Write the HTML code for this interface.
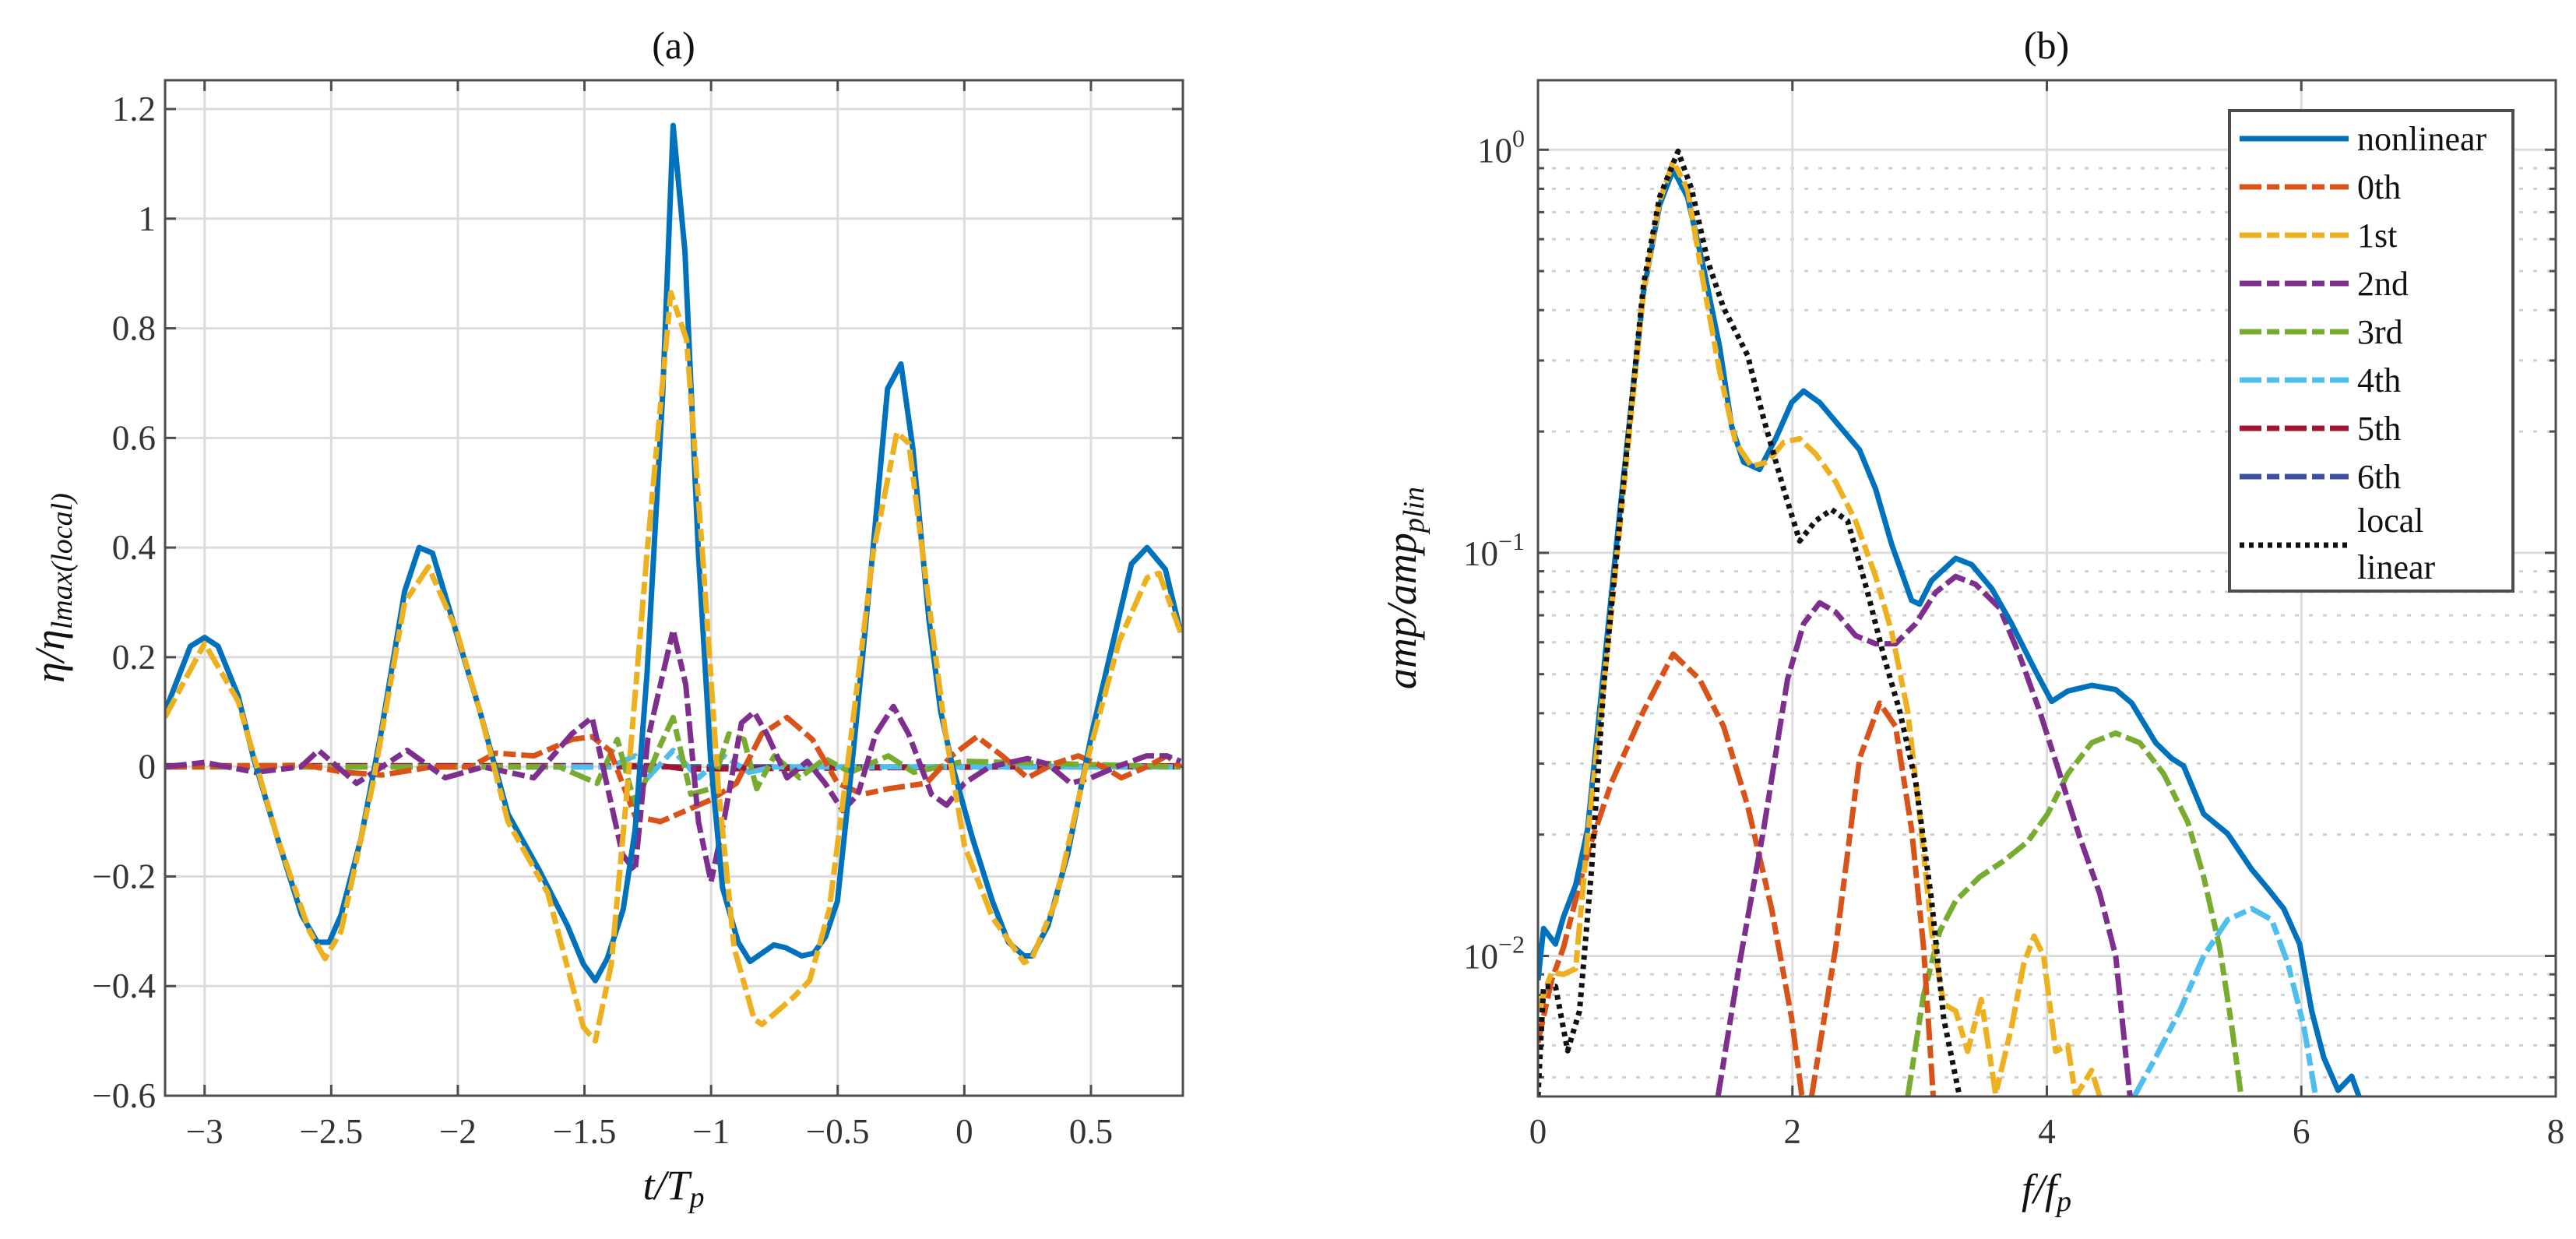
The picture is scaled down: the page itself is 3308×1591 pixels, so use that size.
<!DOCTYPE html>
<html><head><meta charset="utf-8"><style>
html,body{margin:0;padding:0;background:#fff;}
svg{display:block;font-family:"Liberation Serif",serif;}
</style></head>
<body>
<svg id="fig" width="3308" height="1591" viewBox="0 0 3308 1591" xmlns="http://www.w3.org/2000/svg">
<rect width="3308" height="1591" fill="#fff"/>
<g id="pa"></g>
<g id="pb"></g>
</svg>
<script>
// ---------- Panel (a) data ----------
const tNonlin = [-3.157,-3.056,-3,-2.947,-2.868,-2.806,-2.712,-2.617,-2.555,-2.508,-2.461,-2.382,-2.304,-2.21,-2.153,-2.1,-2.006,-1.912,-1.802,-1.677,-1.567,-1.504,-1.457,-1.41,-1.347,-1.3,-1.253,-1.191,-1.15,-1.103,-1.05,-1.002,-0.955,-0.893,-0.846,-0.799,-0.752,-0.705,-0.642,-0.595,-0.548,-0.501,-0.438,-0.36,-0.303,-0.25,-0.203,-0.14,-0.093,-0.046,0.032,0.111,0.174,0.236,0.267,0.33,0.408,0.503,0.581,0.66,0.722,0.794,0.854];
const yNonlin = [0.10,0.22,0.236,0.22,0.13,0.015,-0.13,-0.27,-0.32,-0.32,-0.27,-0.13,0.06,0.32,0.40,0.39,0.245,0.10,-0.086,-0.19,-0.29,-0.36,-0.39,-0.35,-0.26,-0.115,0.17,0.68,1.17,0.94,0.39,0.015,-0.22,-0.32,-0.355,-0.34,-0.325,-0.33,-0.345,-0.34,-0.31,-0.245,0.03,0.40,0.69,0.735,0.58,0.27,0.10,0,-0.13,-0.245,-0.32,-0.345,-0.345,-0.29,-0.16,0.06,0.215,0.37,0.40,0.36,0.245];
const tFirst = [-3.157,-3.0,-2.868,-2.712,-2.586,-2.524,-2.461,-2.335,-2.21,-2.116,-2.006,-1.912,-1.802,-1.645,-1.504,-1.457,-1.394,-1.331,-1.253,-1.159,-1.097,-1.034,-0.971,-0.909,-0.83,-0.799,-0.674,-0.611,-0.533,-0.454,-0.36,-0.266,-0.219,-0.14,-0.077,0.001,0.111,0.236,0.267,0.361,0.487,0.612,0.722,0.769,0.854];
const yFirst = [0.09,0.225,0.12,-0.13,-0.30,-0.35,-0.30,-0.03,0.30,0.365,0.25,0.10,-0.10,-0.23,-0.475,-0.50,-0.36,-0.04,0.39,0.865,0.78,0.39,-0.04,-0.33,-0.46,-0.47,-0.42,-0.39,-0.26,0.03,0.39,0.61,0.59,0.30,0.07,-0.145,-0.275,-0.357,-0.35,-0.245,0.015,0.23,0.345,0.353,0.245];
const tZeroth = [-3.157,-2.6,-2.45,-2.3,-2.1,-1.95,-1.85,-1.7,-1.55,-1.47,-1.4,-1.3,-1.2,-1.1,-1.0,-0.9,-0.8,-0.7,-0.6,-0.5,-0.4,-0.3,-0.15,-0.05,0.05,0.15,0.25,0.35,0.45,0.55,0.62,0.72,0.8,0.854];
const yZeroth = [0,0.003,-0.01,-0.015,0,0,0.025,0.02,0.05,0.055,0.03,-0.09,-0.10,-0.08,-0.06,-0.03,0.06,0.09,0.05,-0.03,-0.05,-0.04,-0.03,0.02,0.055,0.02,-0.02,0.005,0.02,0,-0.02,0,0.02,0];
const tSecond = [-3.157,-3.0,-2.8,-2.62,-2.55,-2.4,-2.2,-2.05,-1.9,-1.7,-1.55,-1.47,-1.35,-1.3,-1.25,-1.15,-1.1,-1.05,-1.0,-0.95,-0.88,-0.83,-0.78,-0.7,-0.62,-0.55,-0.48,-0.42,-0.35,-0.28,-0.22,-0.13,-0.07,0,0.1,0.25,0.33,0.42,0.5,0.6,0.72,0.8,0.854];
const ySecond = [0,0.008,-0.01,0,0.03,-0.03,0.03,-0.02,0,-0.02,0.06,0.09,-0.16,-0.19,0.05,0.25,0.15,-0.1,-0.21,-0.1,0.08,0.10,0.06,-0.02,0.01,-0.03,-0.08,-0.05,0.06,0.11,0.06,-0.05,-0.07,-0.03,0,0.015,0.005,-0.03,-0.02,0,0.02,0.02,0.01];
const tThird = [-3.157,-1.6,-1.55,-1.45,-1.37,-1.3,-1.2,-1.15,-1.08,-1.0,-0.93,-0.87,-0.82,-0.75,-0.65,-0.55,-0.45,-0.3,-0.2,-0.1,0,0.854];
const yThird = [0,0,-0.01,-0.03,0.05,-0.07,0.04,0.09,-0.05,-0.04,0.06,0.05,-0.04,0.02,-0.02,0.015,-0.01,0.02,-0.01,0,0.01,0];
const tFourth = [-3.157,-1.4,-1.3,-1.25,-1.15,-1.05,-0.95,-0.85,-0.75,0.854];
const yFourth = [0,0,0.02,-0.02,0.03,-0.02,0.02,-0.01,0,0];
const tFifth = [-3.157,-1.2,-1.1,0.854];
const yFifth = [0.002,0.002,-0.004,0.002];
const tSixth = [-3.157,0.854];
const ySixth = [0,0];
const xTicksA = [-3,-2.5,-2,-1.5,-1,-0.5,0,0.5];
const xTickLabelsA = ["\u22123","\u22122.5","\u22122","\u22121.5","\u22121","\u22120.5","0","0.5"];
const yTicksA = [-0.6,-0.4,-0.2,0,0.2,0.4,0.6,0.8,1,1.2];
const yTickLabelsA = ["\u22120.6","\u22120.4","\u22120.2","0","0.2","0.4","0.6","0.8","1","1.2"];

// ---------- Panel (b) data ----------
const fNonlin = [0,0.044,0.138,0.201,0.296,0.39,0.484,0.642,0.83,0.956,1.063,1.176,1.302,1.428,1.522,1.616,1.742,1.868,1.994,2.088,2.214,2.371,2.528,2.654,2.78,2.937,3.0,3.094,3.283,3.409,3.566,3.723,3.912,4.038,4.164,4.352,4.541,4.667,4.855,4.981,5.075,5.233,5.421,5.61,5.736,5.862,5.987,6.082,6.176,6.289,6.396,6.459];
const aNonlin = [0.0087,0.0117,0.0107,0.0125,0.015,0.0206,0.0405,0.125,0.444,0.729,0.893,0.763,0.508,0.324,0.206,0.168,0.161,0.192,0.236,0.252,0.236,0.206,0.18,0.144,0.105,0.0762,0.0746,0.0854,0.0969,0.0935,0.0816,0.0667,0.0508,0.0428,0.0454,0.0469,0.0458,0.0424,0.0338,0.0309,0.0296,0.0225,0.0201,0.0164,0.0147,0.0131,0.0107,0.0073,0.0056,0.00464,0.00503,0.00443];
const fLocal = [0,0.044,0.138,0.233,0.327,0.421,0.516,0.673,0.83,0.956,1.101,1.208,1.333,1.459,1.648,1.774,1.931,2.057,2.182,2.308,2.434,2.591,2.717,2.843,2.969,3.094,3.189,3.314];
const aLocal = [0.00448,0.0084,0.0084,0.00582,0.0073,0.0164,0.0464,0.15,0.464,0.763,0.991,0.798,0.531,0.405,0.309,0.215,0.144,0.107,0.12,0.128,0.12,0.0798,0.0556,0.0405,0.027,0.0137,0.007,0.00448];
const fFirst = [0,0.107,0.201,0.296,0.39,0.516,0.673,0.83,0.956,1.063,1.176,1.302,1.428,1.553,1.679,1.805,1.931,2.057,2.182,2.34,2.497,2.654,2.78,2.906,3.0,3.094,3.189,3.283,3.377,3.484,3.597,3.723,3.818,3.899,3.975,4.069,4.164,4.226,4.352,4.415];
const aFirst = [0.0073,0.0091,0.009,0.0093,0.0197,0.0464,0.144,0.444,0.746,0.935,0.798,0.464,0.282,0.188,0.164,0.168,0.188,0.192,0.176,0.15,0.12,0.0874,0.0637,0.0405,0.0225,0.0115,0.0076,0.0073,0.0058,0.0078,0.00454,0.00667,0.00955,0.0112,0.01,0.0058,0.006,0.00448,0.0052,0.00448];
const fZeroth = [0,0.107,0.201,0.39,0.579,0.83,1.063,1.27,1.459,1.648,1.836,1.994,2.075,null,2.151,2.34,2.528,2.686,2.811,2.937,3.031,3.107];
const aZeroth = [0.0061,0.0087,0.0105,0.018,0.027,0.0405,0.0561,0.0486,0.0371,0.0236,0.0131,0.007,0.00448,null,0.00448,0.0105,0.0309,0.0424,0.0371,0.0206,0.0105,0.00448];
const fSecond = [1.415,1.585,1.774,1.962,2.088,2.214,2.34,2.497,2.654,2.811,2.969,3.126,3.283,3.44,3.629,3.786,3.943,4.101,4.258,4.415,4.541,4.654];
const aSecond = [0.00448,0.0096,0.0206,0.0486,0.0667,0.0752,0.0713,0.0623,0.0595,0.0595,0.0667,0.0798,0.0874,0.0835,0.0729,0.0556,0.0405,0.0283,0.0197,0.0143,0.01,0.00448];
const fThird = [2.906,3.031,3.157,3.283,3.472,3.66,3.849,4.006,4.164,4.352,4.541,4.73,4.918,5.107,5.233,5.358,5.453,5.528];
const aThird = [0.00448,0.008,0.0115,0.0137,0.0157,0.0172,0.0192,0.0225,0.0283,0.0338,0.0357,0.0338,0.0283,0.0215,0.0157,0.0105,0.0067,0.00448];
const fFourth = [4.686,4.855,5.044,5.233,5.421,5.61,5.767,5.893,6.019,6.113];
const aFourth = [0.00448,0.0056,0.0073,0.01,0.0123,0.0131,0.0123,0.0096,0.0067,0.00448];
const xTicksB = [0,2,4,6,8];
const xTickLabelsB = ["0","2","4","6","8"];
const yTicksB = [0.01,0.1,1];
const yTickExpB = ["\u22122","\u22121","0"];
const legendLabels = ["nonlinear","0th","1st","2nd","3rd","4th","5th","6th"];

const NS = "http://www.w3.org/2000/svg";
function mk(tag, attrs, parent){ const e=document.createElementNS(NS,tag); for(const k in attrs) e.setAttribute(k,attrs[k]); parent.appendChild(e); return e; }
const C = {nl:"#0072BD",z:"#D95319",f:"#EDB120",s:"#7E2F8E",t:"#77AC30",q:"#4DBEEE",v:"#A2142F",x:"#3C4FA0",k:"#111"};
const AX="#4d4d4d", GRID="#dcdcdc", TXT="#333";
const DD="28,7,16,7";

// ---------- Panel (a) ----------
const pa=document.getElementById('pa');
const A={l:212,r:1519,t:103,b:1407,x0:-3.156,x1:0.863,y0:-0.6,y1:1.2526};
const xa=v=>A.l+(v-A.x0)/(A.x1-A.x0)*(A.r-A.l);
const ya=v=>A.b-(v-A.y0)/(A.y1-A.y0)*(A.b-A.t);
mk('defs',{},pa).innerHTML='<clipPath id="ca"><rect x="212" y="103" width="1307" height="1304"/></clipPath><clipPath id="cb"><rect x="1975" y="103" width="1307" height="1305"/></clipPath>';
xTicksA.forEach((v,i)=>{
  const g=mk('line',{x1:xa(v),x2:xa(v),y1:A.t,y2:A.b,stroke:GRID,'stroke-width':3},pa);
   
  mk('line',{x1:xa(v),x2:xa(v),y1:A.b,y2:A.b-14,stroke:AX,'stroke-width':3},pa);
  mk('line',{x1:xa(v),x2:xa(v),y1:A.t,y2:A.t+14,stroke:AX,'stroke-width':3},pa);
  const t=mk('text',{x:xa(v),y:1468,'text-anchor':'middle','font-size':45,fill:TXT},pa); t.textContent=xTickLabelsA[i];
   
});
yTicksA.forEach((v,i)=>{
  const g=mk('line',{x1:A.l,x2:A.r,y1:ya(v),y2:ya(v),stroke:GRID,'stroke-width':3},pa);
   
  mk('line',{x1:A.l,x2:A.l+14,y1:ya(v),y2:ya(v),stroke:AX,'stroke-width':3},pa);
  mk('line',{x1:A.r,x2:A.r-14,y1:ya(v),y2:ya(v),stroke:AX,'stroke-width':3},pa);
  const t=mk('text',{x:200,y:ya(v)+15,'text-anchor':'end','font-size':45,fill:TXT},pa); t.textContent=yTickLabelsA[i];
   
});
const linesA=[[tSixth,ySixth,C.x,DD,'series-6th'],[tFifth,yFifth,C.v,DD,'series-5th'],[tFourth,yFourth,C.q,DD,'series-4th'],[tThird,yThird,C.t,DD,'series-3rd'],[tZeroth,yZeroth,C.z,DD,'series-0th'],[tSecond,ySecond,C.s,DD,'series-2nd'],[tNonlin,yNonlin,C.nl,null,'series-nonlinear'],[tFirst,yFirst,C.f,DD,'series-1st']];
const gA=mk('g',{'clip-path':'url(#ca)'},pa);
linesA.forEach(s=>{
  const pts=s[0].map((x,i)=>xa(x).toFixed(1)+','+ya(s[1][i]).toFixed(1)).join(' ');
  const p=mk('polyline',{points:pts,fill:'none',stroke:s[2],'stroke-width':7,'stroke-linejoin':'round'},gA);
  if(s[3]) p.setAttribute('stroke-dasharray',s[3]);
   
});
mk('rect',{x:A.l,y:A.t,width:A.r-A.l,height:A.b-A.t,fill:'none',stroke:AX,'stroke-width':3},pa);
let tt=mk('text',{x:865,y:75,'text-anchor':'middle','font-size':50,fill:'#111'},pa); tt.textContent='(a)';
 
tt=mk('text',{x:865,y:1540,'text-anchor':'middle','font-size':54,fill:'#111','font-style':'italic'},pa);
tt.innerHTML='t/T<tspan font-size="38" dy="10">p</tspan>';
 
tt=mk('text',{x:0,y:0,'text-anchor':'middle','font-size':54,fill:'#111','font-style':'italic',transform:'translate(82,755) rotate(-90)'},pa);
tt.innerHTML='η/η<tspan font-size="38" dy="10">lmax(local)</tspan>';
 

// ---------- Panel (b) ----------
const pb=document.getElementById('pb');
const B={l:1975,r:3282,t:103,b:1408,x0:0,x1:8,ly0:Math.log10(0.00448),ly1:0.1725};
const xb=v=>B.l+(v-B.x0)/(B.x1-B.x0)*(B.r-B.l);
const yb=v=>B.b-(Math.log10(v)-B.ly0)/(B.ly1-B.ly0)*(B.b-B.t);
[0.001,0.01,0.1].forEach(d=>{for(let m=2;m<=9;m++){const v=d*m; const y=yb(v); if(y<B.t||y>B.b) continue;
  const g=mk('line',{x1:B.l,x2:B.r,y1:y,y2:y,stroke:'#cfcfcf','stroke-width':3,'stroke-dasharray':'5,13'},pb);
   
  mk('line',{x1:B.l,x2:B.l+8,y1:y,y2:y,stroke:AX,'stroke-width':3},pb);
  mk('line',{x1:B.r,x2:B.r-8,y1:y,y2:y,stroke:AX,'stroke-width':3},pb);
}});
xTicksB.forEach((v,i)=>{
  const g=mk('line',{x1:xb(v),x2:xb(v),y1:B.t,y2:B.b,stroke:GRID,'stroke-width':3},pb);
   
  mk('line',{x1:xb(v),x2:xb(v),y1:B.b,y2:B.b-14,stroke:AX,'stroke-width':3},pb);
  mk('line',{x1:xb(v),x2:xb(v),y1:B.t,y2:B.t+14,stroke:AX,'stroke-width':3},pb);
  const t=mk('text',{x:xb(v),y:1468,'text-anchor':'middle','font-size':45,fill:TXT},pb); t.textContent=xTickLabelsB[i];
   
});
yTicksB.forEach((v,i)=>{
  const g=mk('line',{x1:B.l,x2:B.r,y1:yb(v),y2:yb(v),stroke:GRID,'stroke-width':3},pb);
   
  mk('line',{x1:B.l,x2:B.l+14,y1:yb(v),y2:yb(v),stroke:AX,'stroke-width':3},pb);
  mk('line',{x1:B.r,x2:B.r-14,y1:yb(v),y2:yb(v),stroke:AX,'stroke-width':3},pb);
  const t=mk('text',{x:1958,y:yb(v)+16,'text-anchor':'end','font-size':45,fill:TXT},pb);
  t.innerHTML='10<tspan font-size="32" dy="-20">'+yTickExpB[i]+'</tspan>';
   
});
const gB=mk('g',{'clip-path':'url(#cb)'},pb);
function pathB(fx,ay){let d='',pen=false; fx.forEach((x,i)=>{ if(x===null){pen=false;return;} d+=(pen?'L':'M')+xb(x).toFixed(1)+','+yb(ay[i]).toFixed(1); pen=true;}); return d;}
const linesB=[[fFourth,aFourth,C.q,DD,'series-4th'],[fThird,aThird,C.t,DD,'series-3rd'],[fZeroth,aZeroth,C.z,DD,'series-0th'],[fSecond,aSecond,C.s,DD,'series-2nd'],[fNonlin,aNonlin,C.nl,null,'series-nonlinear'],[fFirst,aFirst,C.f,DD,'series-1st'],[fLocal,aLocal,C.k,'6,6','series-local-linear']];
linesB.forEach(s=>{
  const p=mk('path',{d:pathB(s[0],s[1]),fill:'none',stroke:s[2],'stroke-width':7,'stroke-linejoin':'round'},gB);
  if(s[3]) p.setAttribute('stroke-dasharray',s[3]);
   
});
mk('rect',{x:B.l,y:B.t,width:B.r-B.l,height:B.b-B.t,fill:'none',stroke:AX,'stroke-width':3},pb);
tt=mk('text',{x:2628,y:75,'text-anchor':'middle','font-size':50,fill:'#111'},pb); tt.textContent='(b)';
 
tt=mk('text',{x:2628,y:1545,'text-anchor':'middle','font-size':54,fill:'#111','font-style':'italic'},pb);
tt.innerHTML='f/f<tspan font-size="38" dy="10">p</tspan>';
 
tt=mk('text',{x:0,y:0,'text-anchor':'middle','font-size':54,fill:'#111','font-style':'italic',transform:'translate(1818,755) rotate(-90)'},pb);
tt.innerHTML='amp/amp<tspan font-size="38" dy="10">plin</tspan>';
 

// legend
const lg=mk('g',{},pb);
 
mk('rect',{x:2863,y:142,width:364,height:617,fill:'#fff',stroke:AX,'stroke-width':4},lg);
const legCols=[C.nl,C.z,C.f,C.s,C.t,C.q,C.v,C.x];
legendLabels.forEach((lab,i)=>{
  const y=178+i*62;
  const e=mk('g',{},lg);
   
  const l=mk('line',{x1:2876,x2:3016,y1:y,y2:y,stroke:legCols[i],'stroke-width':7},e);
  if(i>0) l.setAttribute('stroke-dasharray','28,7,16,7');
  const t=mk('text',{x:3027,y:y+15,'font-size':44,fill:'#111'},e); t.textContent=lab;
});
const el=mk('g',{},lg);
 
mk('line',{x1:2876,x2:3016,y1:700,y2:700,stroke:C.k,'stroke-width':7,'stroke-dasharray':'6,6'},el);
let t1=mk('text',{x:3027,y:683,'font-size':44,fill:'#111'},el); t1.textContent='local';
let t2=mk('text',{x:3027,y:743,'font-size':44,fill:'#111'},el); t2.textContent='linear';
</script>
</body></html>
